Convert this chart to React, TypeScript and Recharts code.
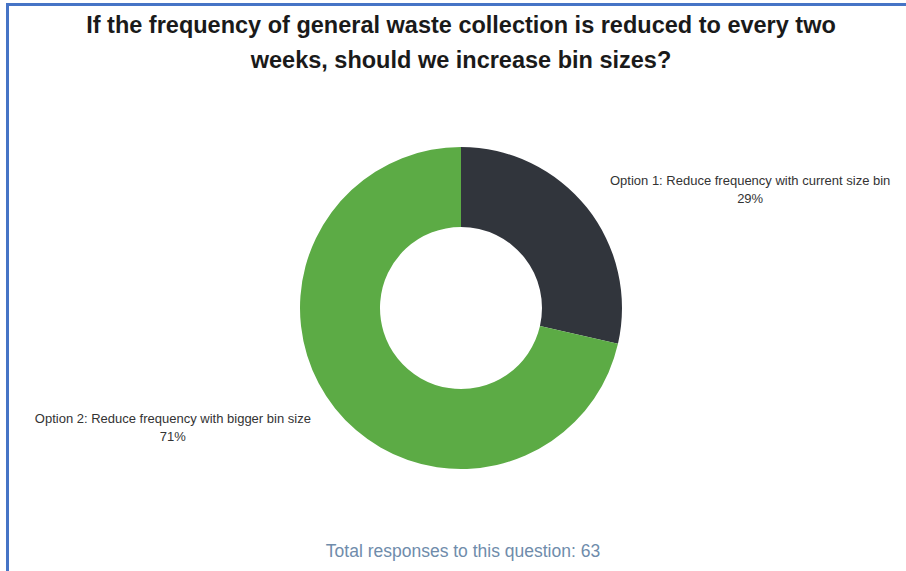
import React from "react";
import { PieChart, Pie, Cell } from "recharts";

const options = [
  "Option 1: Reduce frequency with current size bin",
  "Option 2: Reduce frequency with bigger bin size",
];
const responses = [18, 45];
const colors = ["#31353c", "#5cab45"];
const totalResponses = 63;

const title1 = "If the frequency of general waste collection is reduced to every two";
const title2 = "weeks, should we increase bin sizes?";

const RAD = Math.PI / 180;

function renderLabel(props: any) {
  const { cx, cy, midAngle, outerRadius, percent, name } = props;
  const r = outerRadius * 1.185;
  const px = cx + r * Math.cos(-midAngle * RAD);
  const py = cy + r * Math.sin(-midAngle * RAD);
  const x = px + (px > cx ? 140 : -139);
  return (
    <text
      x={x}
      y={py}
      textAnchor="middle"
      fill="#333"
      fontSize={13}
      fontFamily="'Liberation Sans', Arial, sans-serif"
    >
      <tspan x={x} dy={-4}>{name}</tspan>
      <tspan x={x} dy={18}>{`${Math.round(percent * 100)}%`}</tspan>
    </text>
  );
}

export default function App() {
  const data = options.map((name, i) => ({ name, value: responses[i] }));

  return (
    <div
      style={{
        position: "absolute",
        left: 0,
        top: 0,
        width: 906,
        height: 571,
        background: "#fff",
        overflow: "hidden",
        fontFamily: "'Liberation Sans', Arial, sans-serif",
      }}
    >
      <div
        style={{
          position: "absolute",
          left: 6,
          top: 3,
          width: 920,
          height: 600,
          borderTop: "3px solid #4674c6",
          borderLeft: "3px solid #4674c6",
        }}
      />
      <div
        style={{
          position: "absolute",
          left: 61,
          top: 8,
          width: 800,
          textAlign: "center",
          fontWeight: "bold",
          fontSize: 23.5,
          lineHeight: "35px",
          color: "#1a1a1a",
        }}
      >
        <div>{title1}</div>
        <div>{title2}</div>
      </div>
      <div style={{ position: "absolute", left: 0, top: 0 }}>
        <PieChart width={906} height={571}>
          <Pie
            data={data}
            dataKey="value"
            nameKey="name"
            cx={456}
            cy={303}
            outerRadius={161}
            innerRadius={81}
            startAngle={90}
            endAngle={-270}
            stroke="none"
            labelLine={false}
            label={renderLabel}
            isAnimationActive={false}
          >
            {data.map((entry, index) => (
              <Cell key={`cell-${index}`} fill={colors[index % colors.length]} />
            ))}
          </Pie>
        </PieChart>
      </div>
      <div
        style={{
          position: "absolute",
          left: 263,
          top: 541,
          width: 400,
          textAlign: "center",
          fontSize: 17.5,
          lineHeight: "20px",
          color: "#6f8cab",
        }}
      >
        Total responses to this question: {totalResponses}
      </div>
    </div>
  );
}
